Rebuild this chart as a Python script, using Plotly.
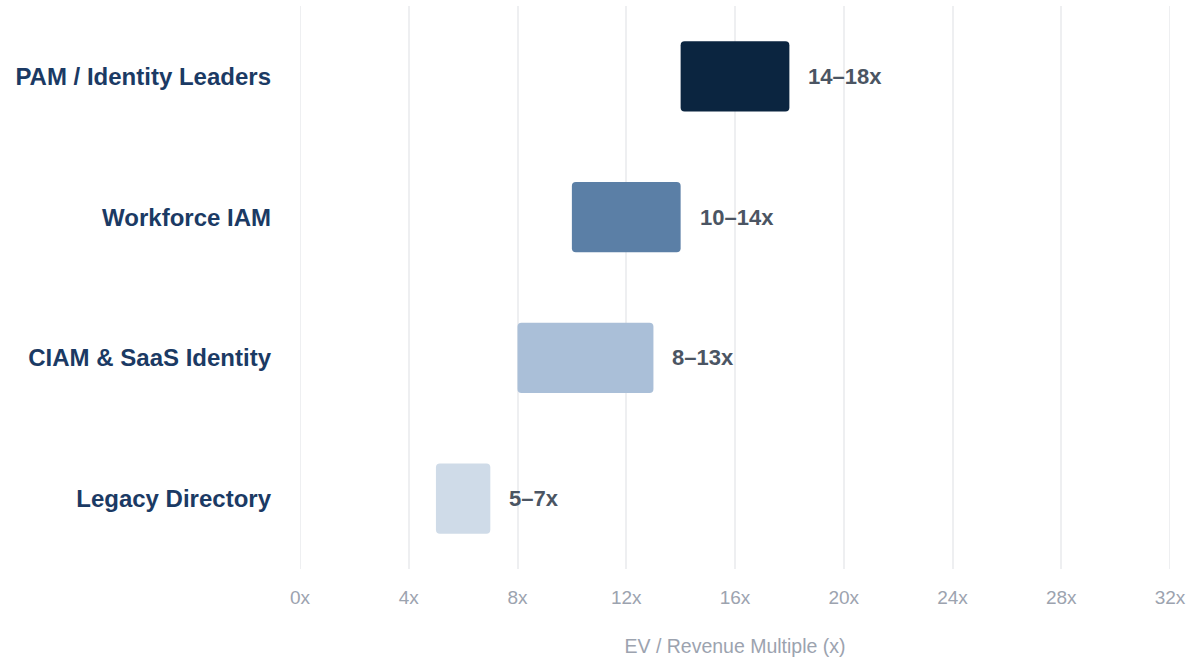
import plotly.graph_objects as go

# EV / revenue multiple ranges by identity segment
segments = ["PAM / Identity Leaders", "Workforce IAM", "CIAM & SaaS Identity", "Legacy Directory"]
low = [14, 10, 8, 5]
high = [18, 14, 13, 7]
colors = ["#0b2540", "#5b7fa6", "#aabfd8", "#cfdbe8"]
tick_vals = [0, 4, 8, 12, 16, 20, 24, 28, 32]
tick_text = ["0x", "4x", "8x", "12x", "16x", "20x", "24x", "28x", "32x"]

labels = [f"{a}\u2013{b}x" for a, b in zip(low, high)]
grid_color = "#eeeff1"

fig = go.Figure()
fig.add_trace(go.Bar(
    y=segments,
    x=[h - l for l, h in zip(low, high)],
    base=low,
    orientation="h",
    marker=dict(color=colors, line=dict(width=0)),
    width=0.5,
    hoverinfo="skip",
))

for seg, h, lab in zip(segments, high, labels):
    fig.add_annotation(
        x=h, y=seg, text=f"<b>{lab}</b>", showarrow=False,
        xanchor="left", xshift=17,
        font=dict(family="Liberation Sans, Arial, sans-serif", size=22, color="#4b5563"),
    )

# edge gridlines at the ends of the axis range
for edge in (tick_vals[0], tick_vals[-1]):
    fig.add_shape(type="line", xref="x", yref="paper", x0=edge, x1=edge, y0=0, y1=1,
                  line=dict(color=grid_color, width=2), layer="below")

fig.update_layout(
    width=1186, height=659,
    margin=dict(l=300, r=16, t=6, b=90),
    plot_bgcolor="white", paper_bgcolor="white",
    barcornerradius=4,
    showlegend=False,
    font=dict(family="Liberation Sans, Arial, sans-serif"),
    xaxis=dict(
        range=[0, 32], tickvals=tick_vals, ticktext=tick_text,
        showgrid=True, gridcolor=grid_color, gridwidth=2,
        zeroline=False, showline=False, automargin=False,
        tickfont=dict(size=19, color="#9ca3af"),
        ticks="", ticklabelstandoff=15, ticklabeloverflow="allow",
        title=dict(text="EV / Revenue Multiple (x)", font=dict(size=19.5, color="#9ca3af"), standoff=32),
    ),
    yaxis=dict(
        categoryorder="array", categoryarray=segments[::-1],
        showgrid=False, zeroline=False, showline=False, automargin=False,
        tickfont=dict(size=24, color="#1b3a64"),
        ticks="", ticklabelstandoff=28,
        tickprefix="<b>", ticksuffix="</b>",
    ),
)

fig.write_html("out.html")
